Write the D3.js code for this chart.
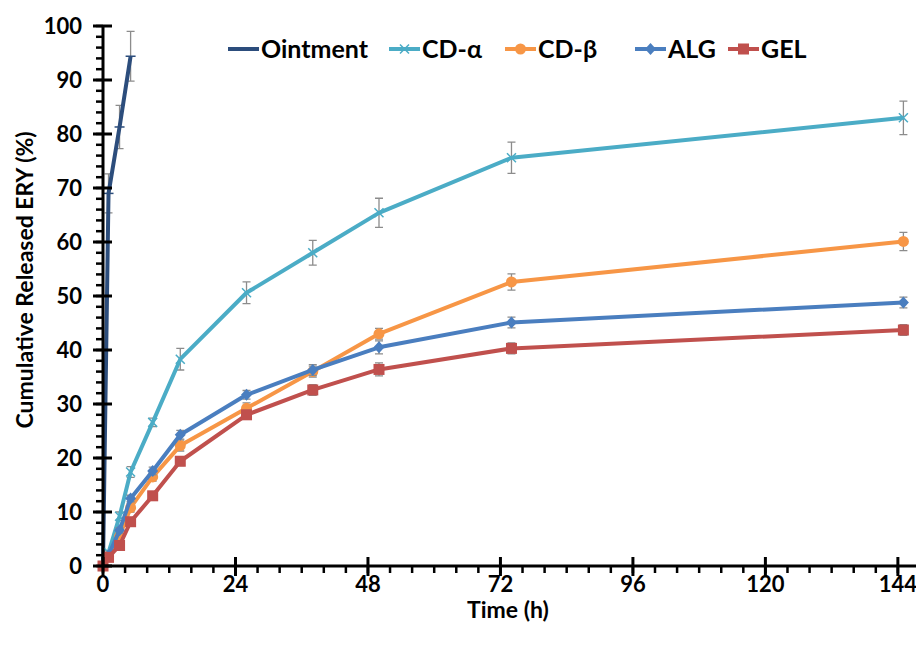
<!DOCTYPE html>
<html>
<head>
<meta charset="utf-8">
<script src="https://cdn.jsdelivr.net/npm/d3@7"></script>
<style>
  body { margin: 0; background: #fff; }
  text { font-family: Lato, "Open Sans", sans-serif; font-weight: 700; }
</style>
</head>
<body>
<div id="chart"></div>
<script>
// sampling times (h)
const times = [0, 1, 3, 5, 9, 14, 26, 38, 50, 74, 145];
const ointmentTimes = [0, 1, 3, 5];

// cumulative release (%) and error bars
const ointment = [0, 69.0, 81.3, 94.4];
const ointmentErr = [0, 3.6, 4.0, 4.6];
const cdAlpha = [0, 2.5, 9.2, 17.4, 26.6, 38.3, 50.6, 58.0, 65.4, 75.6, 83.0];
const cdAlphaErr = [0, 0.3, 0.8, 1.0, 0.8, 2.0, 2.0, 2.3, 2.7, 2.9, 3.1];
const cdBeta = [0, 1.8, 5.5, 10.8, 16.5, 22.3, 29.2, 36.0, 43.0, 52.6, 60.1];
const cdBetaErr = [0, 0.2, 0.5, 0.8, 0.8, 1.0, 1.0, 1.0, 1.0, 1.5, 1.7];
const alg = [0, 2.0, 6.6, 12.5, 17.6, 24.3, 31.7, 36.3, 40.5, 45.1, 48.8];
const algErr = [0, 0.2, 0.5, 0.6, 0.7, 0.8, 0.8, 1.0, 1.2, 1.0, 1.0];
const gel = [0, 1.6, 3.8, 8.2, 13.0, 19.4, 28.0, 32.6, 36.4, 40.3, 43.7];
const gelErr = [0, 0.2, 0.4, 0.6, 0.7, 0.8, 0.8, 1.0, 1.2, 1.0, 1.0];

const seriesNames = ["Ointment", "CD-\u03b1", "CD-\u03b2", "ALG", "GEL"];
const xTicks = [0, 24, 48, 72, 96, 120, 144];
const yTicks = [0, 10, 20, 30, 40, 50, 60, 70, 80, 90, 100];

const W = 916, H = 650;
const series = [
  { name: seriesNames[0], t: ointmentTimes, v: ointment, e: ointmentErr, color: "#2c4d7c", marker: "dash" },
  { name: seriesNames[1], t: times, v: cdAlpha, e: cdAlphaErr, color: "#4bacc6", marker: "x" },
  { name: seriesNames[2], t: times, v: cdBeta, e: cdBetaErr, color: "#f79646", marker: "circle" },
  { name: seriesNames[3], t: times, v: alg, e: algErr, color: "#4a7ebf", marker: "diamond" },
  { name: seriesNames[4], t: times, v: gel, e: gelErr, color: "#c0504d", marker: "square" }
];

const x = d3.scaleLinear().domain([0, 148]).range([103, 103 + 148 * 5.52]);
const y = d3.scaleLinear().domain([0, 100]).range([566, 26]);

const svg = d3.select("#chart").append("svg")
  .attr("width", W)
  .attr("height", H);

function drawMarker(g, type, color, px, py) {
  if (type === "circle") {
    g.append("circle").attr("cx", px).attr("cy", py).attr("r", 5.5).attr("fill", color);
  } else if (type === "square") {
    g.append("rect").attr("x", px - 5.5).attr("y", py - 5.5).attr("width", 11).attr("height", 11).attr("fill", color);
  } else if (type === "diamond") {
    g.append("path").attr("d", `M${px},${py - 6}L${px + 5.5},${py}L${px},${py + 6}L${px - 5.5},${py}Z`).attr("fill", color);
  } else if (type === "x") {
    g.append("path").attr("d", `M${px - 4.5},${py - 4.5}L${px + 4.5},${py + 4.5}M${px - 4.5},${py + 4.5}L${px + 4.5},${py - 4.5}`)
      .attr("stroke", color).attr("stroke-width", 1.5);
  } else if (type === "dash") {
    g.append("path").attr("d", `M${px - 5},${py}L${px + 5},${py}`).attr("stroke", color).attr("stroke-width", 1.5);
  }
}

const line = d3.line().x(d => x(d[0])).y(d => y(d[1]));

// each series: error bars, then line, then markers
series.forEach(s => {
  const g = svg.append("g");
  const pts = s.t.map((t, i) => [t, s.v[i], s.e[i]]);
  pts.forEach(d => {
    if (d[2] <= 0) return;
    const px = x(d[0]), y1 = y(d[1] + d[2]), y2 = y(d[1] - d[2]);
    g.append("path")
      .attr("d", `M${px},${y1}V${y2}M${px - 4},${y1}H${px + 4}M${px - 4},${y2}H${px + 4}`)
      .attr("stroke", "#8c8c8c").attr("stroke-width", 1.3).attr("fill", "none");
  });
  g.append("path").datum(pts)
    .attr("d", line)
    .attr("fill", "none")
    .attr("stroke", s.color)
    .attr("stroke-width", 4)
    .attr("stroke-linejoin", "round");
  pts.forEach(d => drawMarker(g, s.marker, s.color, x(d[0]), y(d[1])));
});

// axes
const axes = svg.append("g");
d3.range(0, 101, 2).forEach(v => {
  axes.append("line").attr("x1", 96).attr("x2", 103).attr("y1", y(v)).attr("y2", y(v))
    .attr("stroke", "#000").attr("stroke-width", 2.5);
});
yTicks.forEach(v => {
  axes.append("line").attr("x1", 93).attr("x2", 112).attr("y1", y(v)).attr("y2", y(v))
    .attr("stroke", "#000").attr("stroke-width", 3);
  axes.append("text").attr("x", 82).attr("y", y(v)).attr("dy", "0.36em")
    .attr("text-anchor", "end").attr("font-size", 22).text(v);
});
d3.range(0, 149, 4).forEach(v => {
  axes.append("line").attr("x1", x(v)).attr("x2", x(v)).attr("y1", 566).attr("y2", 573)
    .attr("stroke", "#000").attr("stroke-width", 2.5);
});
xTicks.forEach(v => {
  axes.append("line").attr("x1", x(v)).attr("x2", x(v)).attr("y1", 557).attr("y2", 576)
    .attr("stroke", "#000").attr("stroke-width", 3);
  axes.append("text").attr("x", x(v)).attr("y", 592)
    .attr("text-anchor", "middle").attr("font-size", 22).text(v);
});
axes.append("line").attr("x1", 103).attr("x2", W).attr("y1", 566).attr("y2", 566)
  .attr("stroke", "#000").attr("stroke-width", 3);
axes.append("line").attr("x1", 103).attr("x2", 103).attr("y1", 25).attr("y2", 567)
  .attr("stroke", "#000").attr("stroke-width", 3);

// axis titles
svg.append("text").attr("x", 508).attr("y", 618).attr("text-anchor", "middle")
  .attr("font-size", 23).text("Time (h)");
svg.append("text").attr("transform", "translate(33,280) rotate(-90)")
  .attr("text-anchor", "middle").attr("font-size", 23).text("Cumulative Released ERY (%)");

// legend
const legendX = [228, 389, 505, 635, 728];
const legend = svg.append("g");
series.forEach((s, i) => {
  const lx = legendX[i], ly = 49;
  legend.append("line").attr("x1", lx).attr("x2", lx + 31).attr("y1", ly).attr("y2", ly)
    .attr("stroke", s.color).attr("stroke-width", 4);
  drawMarker(legend.append("g"), s.marker, s.color, lx + 15.5, ly);
  legend.append("text").attr("x", lx + 33).attr("y", ly).attr("dy", "0.36em")
    .attr("font-size", 25).text(s.name);
});
</script>
</body>
</html>
